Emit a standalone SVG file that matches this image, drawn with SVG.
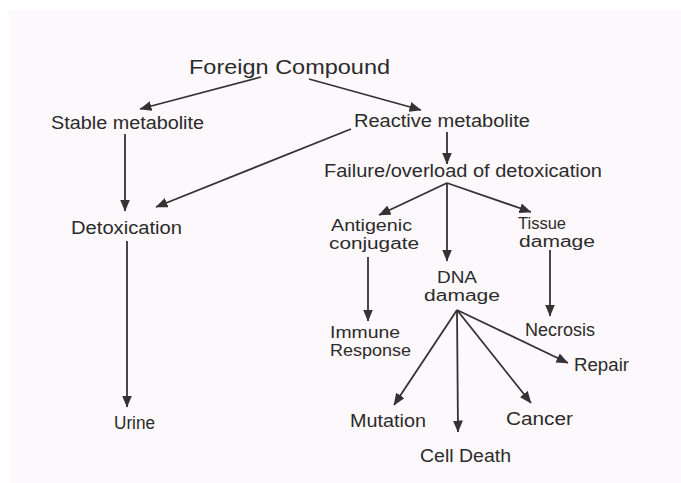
<svg xmlns="http://www.w3.org/2000/svg" width="681" height="483" viewBox="0 0 681 483">
<defs>
<style>
text{font-family:"Liberation Sans",Arial,sans-serif;font-size:17.5px;fill:#2b2b2b}
.big{font-size:19.5px}
.two{font-size:16px}
.c line{stroke:#333;stroke-width:1.8;marker-end:url(#ah)}
</style>
<marker id="ah" markerUnits="userSpaceOnUse" markerWidth="12" markerHeight="10" viewBox="0 0 12 10" refX="11.5" refY="5" orient="auto">
<path d="M0,0 L12,5 L0,10 Z" fill="#333"/>
</marker>
</defs>
<rect width="681" height="483" fill="#ffffff"/>
<rect x="9" y="10" width="672" height="473" fill="#fdf8fb"/>
<g class="c" id="connectors">
<line x1="261" y1="77" x2="140" y2="109"/>
<line x1="309" y1="79" x2="421" y2="110"/>
<line x1="125" y1="134" x2="125" y2="211"/>
<line x1="351" y1="129" x2="156" y2="207"/>
<line x1="447" y1="132" x2="447" y2="164"/>
<line x1="447" y1="183" x2="379" y2="215"/>
<line x1="447" y1="183" x2="447" y2="261"/>
<line x1="447" y1="183" x2="531" y2="212"/>
<line x1="127" y1="241" x2="127" y2="407"/>
<line x1="368" y1="257" x2="368" y2="321"/>
<line x1="550" y1="250" x2="550" y2="316"/>
<line x1="457" y1="310" x2="394" y2="405"/>
<line x1="457" y1="310" x2="458" y2="432"/>
<line x1="457" y1="310" x2="531" y2="403"/>
<line x1="457" y1="310" x2="568" y2="363"/>
</g>
<g id="foreign"><text class="big" x="189" y="74" textLength="201" lengthAdjust="spacingAndGlyphs">Foreign Compound</text></g>
<g id="stable"><text x="51" y="129" textLength="153" lengthAdjust="spacingAndGlyphs">Stable metabolite</text></g>
<g id="reactive"><text x="354" y="127" textLength="176" lengthAdjust="spacingAndGlyphs">Reactive metabolite</text></g>
<g id="failure"><text x="324" y="177" textLength="278" lengthAdjust="spacingAndGlyphs">Failure/overload of detoxication</text></g>
<g id="detox"><text x="71" y="234" textLength="111" lengthAdjust="spacingAndGlyphs">Detoxication</text></g>
<g id="antigenic"><text class="two" x="331" y="231" textLength="81" lengthAdjust="spacingAndGlyphs">Antigenic</text><text class="two" x="329" y="249" textLength="90" lengthAdjust="spacingAndGlyphs">conjugate</text></g>
<g id="tissue"><text class="two" x="518" y="229" textLength="48" lengthAdjust="spacingAndGlyphs">Tissue</text><text class="two" x="519" y="247" textLength="76" lengthAdjust="spacingAndGlyphs">damage</text></g>
<g id="dna"><text class="two" x="437" y="283" textLength="40" lengthAdjust="spacingAndGlyphs">DNA</text><text class="two" x="424" y="301" textLength="76" lengthAdjust="spacingAndGlyphs">damage</text></g>
<g id="immune"><text class="two" x="330" y="338" textLength="70" lengthAdjust="spacingAndGlyphs">Immune</text><text class="two" x="330" y="356" textLength="81" lengthAdjust="spacingAndGlyphs">Response</text></g>
<g id="necrosis"><text x="525" y="336" textLength="70" lengthAdjust="spacingAndGlyphs">Necrosis</text></g>
<g id="repair"><text x="574" y="371" textLength="55" lengthAdjust="spacingAndGlyphs">Repair</text></g>
<g id="mutation"><text x="350" y="427" textLength="76" lengthAdjust="spacingAndGlyphs">Mutation</text></g>
<g id="cancer"><text x="506" y="425" textLength="67" lengthAdjust="spacingAndGlyphs">Cancer</text></g>
<g id="celldeath"><text x="420" y="462" textLength="91" lengthAdjust="spacingAndGlyphs">Cell Death</text></g>
<g id="urine"><text x="114" y="429" textLength="41" lengthAdjust="spacingAndGlyphs">Urine</text></g>
</svg>
